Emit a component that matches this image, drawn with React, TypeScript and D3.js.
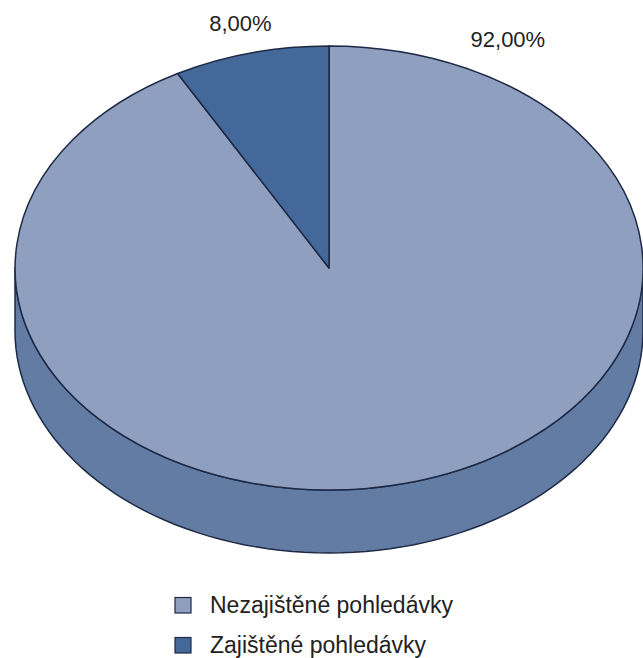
import React from 'react';
import * as d3 from 'd3';

const categories = ['Nezajištěné pohledávky', 'Zajištěné pohledávky'];
const shares = [92, 8];
const valueLabels = ['92,00%', '8,00%'];
// where each percentage label sits (degrees from the top, clockwise)
const labelAngles = [29, -14.4];

const topColors = ['#8E9FC0', '#436899'];
const sideColors = ['#627CA4', '#34527D'];
const strokeColor = '#1E2944';

const W = 643;
const H = 658;
const cx = 329;
const cy = 268;
const rx = 314;
const ry = 222;
const depth = 63;

const px = (a: number) => cx + rx * Math.sin(a);
const py = (a: number) => cy - ry * Math.cos(a);

// side wall of a slice, only the part that faces the viewer (PI/2 .. 3PI/2)
const sidePath = (a0: number, a1: number) => {
  const s = Math.max(a0, Math.PI / 2);
  const e = Math.min(a1, (3 * Math.PI) / 2);
  if (e <= s) return null;
  const n = 80;
  const angles = d3.range(n + 1).map(i => s + ((e - s) * i) / n);
  const top = angles.map(a => [px(a), py(a)] as [number, number]);
  const bottom = angles.slice().reverse().map(a => [px(a), py(a) + depth] as [number, number]);
  return d3.line()([...top, ...bottom]) + 'Z';
};

const App = () => {
  const pie = d3.pie<number>().sort(null).value(d => d);
  const arcs = pie(shares);
  const arcGen = d3.arc<d3.PieArcDatum<number>>().innerRadius(0).outerRadius(1);

  const font = '"Liberation Sans", Arial, sans-serif';

  return (
    <svg width={W} height={H} style={{ display: 'block', position: 'absolute', left: 0, top: 0 }}>
      <rect width={W} height={H} fill="#fff" />
      {arcs.map((a, i) => {
        const d = sidePath(a.startAngle, a.endAngle);
        return d ? (
          <path key={'s' + i} d={d} fill={sideColors[i]} stroke={strokeColor} strokeWidth={1.5} strokeLinejoin="round" />
        ) : null;
      })}
      <g transform={`translate(${cx},${cy}) scale(${rx},${ry})`}>
        {arcs.map((a, i) => (
          <path
            key={'t' + i}
            d={arcGen(a) || ''}
            fill={topColors[i]}
            stroke={strokeColor}
            strokeWidth={1.5}
            strokeLinejoin="round"
            vectorEffect="non-scaling-stroke"
          />
        ))}
      </g>
      {arcs.map((a, i) => {
        const ang = (labelAngles[i] * Math.PI) / 180;
        const f = i === 0 ? 1.175 : 1.135;
        return (
          <text
            key={'l' + i}
            x={cx + rx * f * Math.sin(ang)}
            y={cy - ry * f * Math.cos(ang)}
            textAnchor="middle"
            dominantBaseline="central"
            fontFamily={font}
            fontSize={22}
            fill="#222"
          >
            {valueLabels[i]}
          </text>
        );
      })}
      {categories.map((c, i) => (
        <g key={'g' + i} transform={`translate(175,${613 + i * 40})`}>
          <rect x={0} y={-15.5} width={16} height={15.5} fill={topColors[i]} stroke={strokeColor} strokeWidth={1.2} />
          <text x={35} y={0} fontFamily={font} fontSize={23} fill="#222">
            {c}
          </text>
        </g>
      ))}
    </svg>
  );
};

export default App;
